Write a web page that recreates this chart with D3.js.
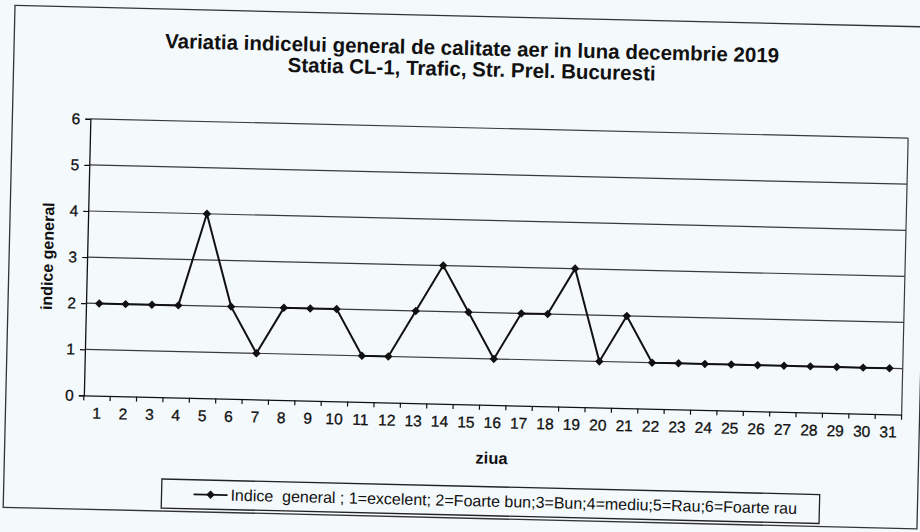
<!DOCTYPE html>
<html>
<head>
<meta charset="utf-8">
<script src="https://cdn.jsdelivr.net/npm/d3@7"></script>
<style>
  html, body { margin: 0; padding: 0; background: #f4f9fc; }
  svg { display: block; }
  text { font-family: "Liberation Sans", Arial, sans-serif; fill: #111; }
</style>
</head>
<body>
<svg id="chart" width="920" height="532"></svg>
<script>
const days = ["1","2","3","4","5","6","7","8","9","10","11","12","13","14","15","16","17","18","19","20","21","22","23","24","25","26","27","28","29","30","31"];
const indiceGeneral = [2,2,2,2,4,2,1,2,2,2,1,1,2,3,2,1,2,2,3,1,2,1,1,1,1,1,1,1,1,1,1];
const yTicks = [0,1,2,3,4,5,6];
const titleLines = ["Variatia indicelui general de calitate aer in luna decembrie 2019", "Statia CL-1, Trafic, Str. Prel. Bucuresti"];
const yTitle = "indice general";
const xTitle = "ziua";
const legendLabel = "Indice  general ; 1=excelent; 2=Foarte bun;3=Bun;4=mediu;5=Rau;6=Foarte rau";

const svg = d3.select("#chart");
svg.append("rect").attr("width", 920).attr("height", 532).attr("fill", "#f4f9fc");

const root = svg.append("g").attr("transform", "rotate(1.35, 460, 266)");

// outer chart border
root.append("rect").attr("x", 9).attr("y", 16).attr("width", 914).attr("height", 502)
  .attr("fill", "none").attr("stroke", "#333").attr("stroke-width", 1.3);

const plot = { left: 87, right: 905, top: 127.6, bottom: 404.2 };

const x = d3.scaleBand().domain(days).range([plot.left, plot.right]).paddingInner(0).paddingOuter(0);
const y = d3.scaleLinear().domain([0, 6]).range([plot.bottom, plot.top]);

// gridlines
root.append("g").selectAll("line").data(yTicks.filter(d => d > 0)).join("line")
  .attr("x1", plot.left).attr("x2", plot.right)
  .attr("y1", d => y(d)).attr("y2", d => y(d))
  .attr("stroke", "#3a3a3a").attr("stroke-width", 1.2);

// right border of plot
root.append("line").attr("x1", plot.right).attr("x2", plot.right)
  .attr("y1", plot.top).attr("y2", plot.bottom).attr("stroke", "#3a3a3a").attr("stroke-width", 1.2);

// y axis
const yAxis = root.append("g").attr("transform", `translate(${plot.left},0)`)
  .call(d3.axisLeft(y).tickValues(yTicks).tickFormat(d3.format("d")).tickSize(5).tickPadding(5));
yAxis.select(".domain").attr("stroke", "#111").attr("stroke-width", 1.3);
yAxis.selectAll(".tick line").attr("stroke", "#111").attr("stroke-width", 1.2);
yAxis.selectAll("text").attr("font-size", 15.5).style("fill", "#111")
  .style("stroke", "#111").style("stroke-width", 0.3);

// x axis
const xAxis = root.append("g").attr("transform", `translate(0,${plot.bottom})`)
  .call(d3.axisBottom(x).tickSize(0).tickPadding(12));
xAxis.select(".domain").attr("stroke", "#111").attr("stroke-width", 1.3);
xAxis.selectAll("text").attr("font-size", 15.5).style("fill", "#111")
  .style("stroke", "#111").style("stroke-width", 0.3);
// tick marks between categories
const boundaries = days.map(d => x(d)).concat([plot.right]);
root.append("g").selectAll("line").data(boundaries).join("line")
  .attr("x1", d => d).attr("x2", d => d)
  .attr("y1", plot.bottom).attr("y2", plot.bottom + 5)
  .attr("stroke", "#111").attr("stroke-width", 1.2);

// series line
const cx = d => x(d) + x.bandwidth() / 2;
const line = d3.line().x((v, i) => cx(days[i])).y(v => y(v));
root.append("path").datum(indiceGeneral).attr("d", line)
  .attr("fill", "none").attr("stroke", "#111").attr("stroke-width", 2);

const diamond = d3.symbol().type(d3.symbolSquare).size(36);
root.append("g").selectAll("path").data(indiceGeneral).join("path")
  .attr("d", diamond)
  .attr("transform", (v, i) => `translate(${cx(days[i])},${y(v)}) rotate(45)`)
  .attr("fill", "#111");

// titles
root.append("text").attr("x", 467).attr("y", 55).attr("text-anchor", "middle")
  .attr("font-size", 20.5).attr("font-weight", "bold").text(titleLines[0]);
root.append("text").attr("x", 467).attr("y", 76).attr("text-anchor", "middle")
  .attr("font-size", 20.5).attr("font-weight", "bold").text(titleLines[1]);

root.append("text").attr("transform", `translate(53,${(plot.top + plot.bottom) / 2}) rotate(-90)`)
  .attr("text-anchor", "middle").attr("font-size", 16).attr("font-weight", "bold").text(yTitle);

root.append("text").attr("x", (plot.left + plot.right) / 2).attr("y", 463).attr("text-anchor", "middle")
  .attr("font-size", 16.5).attr("font-weight", "bold").text(xTitle);

// legend
const lg = root.append("g");
lg.append("rect").attr("x", 167).attr("y", 486).attr("width", 658).attr("height", 29)
  .attr("fill", "none").attr("stroke", "#222").attr("stroke-width", 1.3);
lg.append("line").attr("x1", 199).attr("x2", 233).attr("y1", 500.5).attr("y2", 500.5)
  .attr("stroke", "#111").attr("stroke-width", 1.8);
lg.append("path").attr("d", diamond).attr("transform", "translate(216,500.5) rotate(45)").attr("fill", "#111");
lg.append("text").attr("x", 236).attr("y", 506).attr("font-size", 16)
  .attr("xml:space", "preserve").style("white-space", "pre").text(legendLabel);
</script>
</body>
</html>
